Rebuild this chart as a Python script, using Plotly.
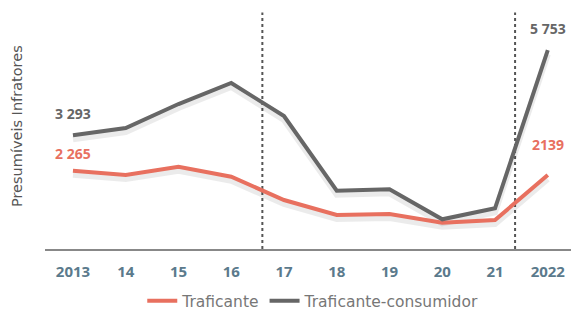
import plotly.graph_objects as go

years = ["2013", "14", "15", "16", "17", "18", "19", "20", "21", "2022"]
traficante = [2265, 2142, 2382, 2093, 1418, 984, 1013, 761, 839, 2139]
traficante_consumidor = [3293, 3502, 4196, 4804, 3849, 1687, 1728, 860, 1178, 5753]
divider_positions = [3.59, 8.38]

RED = "#E8705F"
GRAY = "#666666"
FONT = "Open Sans"
FONT2 = "DejaVu Sans"
Y_MAX = 6917
SHADOW_SHIFT = Y_MAX * 4 / 239  # ~4 px drop shadow

xs = list(range(len(years)))
fig = go.Figure()
for series in (traficante, traficante_consumidor):
    fig.add_trace(go.Scatter(x=xs, y=[v - SHADOW_SHIFT for v in series], mode="lines",
                             showlegend=False, hoverinfo="skip",
                             line=dict(color="rgba(0,0,0,0.08)", width=6)))
fig.add_trace(go.Scatter(x=xs, y=traficante, mode="lines", name="Traficante",
                         line=dict(color=RED, width=4)))
fig.add_trace(go.Scatter(x=xs, y=traficante_consumidor, mode="lines", name="Traficante-consumidor",
                         line=dict(color=GRAY, width=4)))

for xp in divider_positions:
    fig.add_shape(type="line", x0=xp, x1=xp, y0=0, y1=0.99, xref="x", yref="paper",
                  line=dict(color="#555555", width=2, dash="dot"), layer="below")

def fmt(v):
    return f"{v:,}".replace(",", " ")

anns = [
    (0, traficante_consumidor[0], fmt(traficante_consumidor[0]), GRAY, 22),
    (0, traficante[0], fmt(traficante[0]), RED, 17),
    (9, traficante_consumidor[9], fmt(traficante_consumidor[9]), GRAY, 22),
    (9, traficante[9], str(traficante[9]), RED, 31),
]
for x, y, t, c, dy in anns:
    fig.add_annotation(x=x, y=y, text=f"<b>{t}</b>", showarrow=False, yshift=dy,
                       font=dict(family=FONT, size=14, color=c))

fig.add_annotation(xref="paper", yref="paper", x=-0.053, y=0.515, xanchor="center", yanchor="middle",
                   text="Presumíveis Infratores", textangle=-90, showarrow=False,
                   font=dict(family=FONT2, size=14.5, color="#555555"))

fig.update_layout(
    width=571, height=312,
    margin=dict(l=45, r=0, t=10, b=63, autoexpand=False),
    paper_bgcolor="white", plot_bgcolor="white",
    font=dict(family=FONT, color=GRAY),
    showlegend=True,
    legend=dict(orientation="h", x=0.51, xanchor="center", y=-0.218, yanchor="middle",
                font=dict(family=FONT2, size=15.5, color="#777777")),
    xaxis=dict(range=[-0.53, 9.44], tickmode="array", tickvals=xs,
               ticktext=[f"<b>{y}</b>" for y in years], showgrid=False, zeroline=False,
               showline=True, linecolor="#888888", linewidth=2, ticks="",
               ticklabelstandoff=8, automargin=False,
               tickfont=dict(family=FONT, size=15, color="#5B7A8C")),
    yaxis=dict(range=[0, Y_MAX], showgrid=False, zeroline=False, showticklabels=False,
               automargin=False),
)

fig.write_html("out.html", config={"displayModeBar": False},
               post_script="document.body.style.margin='0';")
